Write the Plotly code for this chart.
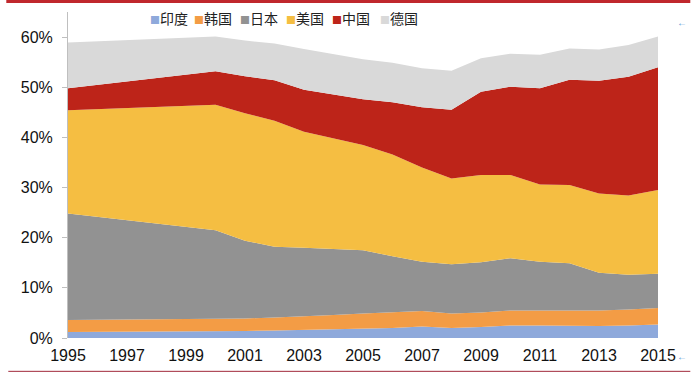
import plotly.graph_objects as go

# ---- data (share, %) ----
years = [1995, 2000, 2001, 2002, 2003, 2004, 2005, 2006, 2007, 2008,
         2009, 2010, 2011, 2012, 2013, 2014, 2015]
india = [1.2, 1.3, 1.4, 1.5, 1.6, 1.7, 1.8, 2.0, 2.3, 2.0,
         2.2, 2.5, 2.5, 2.4, 2.4, 2.5, 2.7]
korea = [2.4, 2.5, 2.5, 2.6, 2.7, 2.9, 3.1, 3.1, 3.1, 2.9,
         2.9, 3.0, 3.0, 3.1, 3.1, 3.2, 3.3]
japan = [21.2, 17.7, 15.5, 14.1, 13.7, 13.2, 12.6, 11.2, 9.8, 9.8,
         10.0, 10.4, 9.7, 9.4, 7.5, 6.9, 6.8]
usa = [20.6, 25.0, 25.4, 25.1, 23.1, 22.0, 21.0, 20.3, 18.8, 17.1,
       17.4, 16.6, 15.4, 15.6, 15.8, 15.8, 16.7]
china = [4.4, 6.7, 7.4, 8.1, 8.4, 8.8, 9.1, 10.4, 12.0, 13.7,
         16.6, 17.6, 19.2, 21.0, 22.5, 23.7, 24.5]
germany = [9.1, 6.9, 7.1, 7.3, 8.1, 8.0, 8.0, 7.9, 7.8, 7.8,
           6.7, 6.6, 6.7, 6.2, 6.2, 6.3, 6.1]

names = ["印度", "韩国", "日本", "美国", "中国", "德国"]
series = [india, korea, japan, usa, china, germany]
colors = ["#8EA9DB", "#F39C45", "#929292", "#F5BE42", "#BD2419", "#D9D9D9"]

x_ticks = list(range(1995, 2016, 2))
y_ticks = [0, 0.1, 0.2, 0.3, 0.4, 0.5, 0.6]

FONT = "Liberation Sans, Arial, Noto Sans CJK SC, sans-serif"

fig = go.Figure()
for name, vals, col in zip(names, series, colors):
    fig.add_trace(go.Scatter(
        x=years, y=[v / 100 for v in vals], name=name,
        mode="lines", stackgroup="one",
        line=dict(width=0, color=col), fillcolor=col,
        showlegend=False,
    ))

# manual legend (compact, like the reference)
W, L, T, B = 590.0, 67.7, 12.0, 337.7
def px_x(p):
    return (p - L) / W
def px_y(p):
    return (B - p) / (B - T)

legend_px = [148, 192, 238, 284, 330, 378]
for name, col, px in zip(names, colors, legend_px):
    fig.add_annotation(
        x=px_x(px), y=px_y(18), xref="paper", yref="paper",
        xanchor="left", yanchor="middle", showarrow=False,
        text=f"<span style='color:{col};font-size:10px'>■</span>{name}",
        font=dict(family="Noto Sans CJK SC, " + FONT, size=14, color="#222222"),
    )

# decorative report rules and arrows
fig.add_shape(type="line", xref="paper", yref="paper",
              x0=px_x(6), x1=px_x(690), y0=px_y(1.5), y1=px_y(1.5),
              line=dict(color="#C0282D", width=3))
fig.add_shape(type="line", xref="paper", yref="paper",
              x0=px_x(8), x1=px_x(690), y0=px_y(371), y1=px_y(371),
              line=dict(color="#A0283A", width=1))
for py in (15, 364):
    fig.add_annotation(x=px_x(689), y=px_y(py), xref="paper", yref="paper",
                       showarrow=False, text="←",
                       font=dict(size=10, color="#5B9BD5", family=FONT))

fig.update_xaxes(
    range=[1995, 2015], tickvals=x_ticks, showgrid=False, zeroline=False,
    showline=False, ticks="", automargin=False,
    tickfont=dict(family=FONT, size=16, color="#111111"),
    ticklabelstandoff=6,
)
fig.update_yaxes(
    range=[0, 0.65], tickvals=y_ticks, tickformat=".0%", showgrid=False,
    zeroline=False, showline=True, linecolor="#BFBFBF", linewidth=1,
    ticks="outside", ticklen=5, tickcolor="#BFBFBF", automargin=False,
    tickfont=dict(family=FONT, size=16, color="#111111"),
    ticklabelstandoff=6,
)
fig.update_layout(
    width=700, height=376,
    margin=dict(l=68, r=42, t=12, b=38),
    paper_bgcolor="white", plot_bgcolor="white",
    font=dict(family=FONT),
)
fig.write_html("out.html", config={"displayModeBar": False},
               post_script="document.body.style.margin='0';document.body.style.overflow='hidden';")
